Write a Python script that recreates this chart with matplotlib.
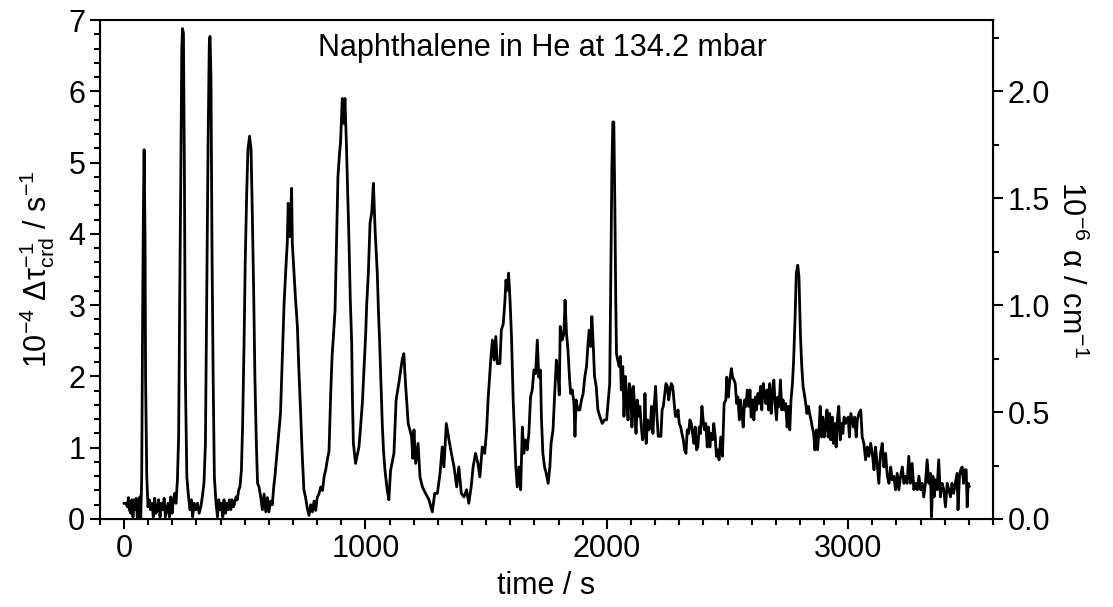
import matplotlib
matplotlib.use("Agg")
import matplotlib.pyplot as plt
from matplotlib.ticker import MultipleLocator

plt.rcParams['font.family'] = ['Liberation Sans', 'DejaVu Sans']
plt.rcParams['mathtext.fontset'] = 'custom'
plt.rcParams['mathtext.rm'] = 'Liberation Sans'
plt.rcParams['mathtext.it'] = 'Liberation Sans'
plt.rcParams['mathtext.default'] = 'regular'

### trace, time in s, signal in 1e4 s^-1
t_a = [0, 7, 14, 18, 22, 28, 32, 37, 41, 46, 50, 55, 59, 65, 69, 73, 77, 80, 83, 87,
       89, 94, 99, 105, 110, 116, 121, 127, 132, 138, 143, 149, 154, 160, 166, 171, 177,
       182, 188, 193, 199, 204, 210, 215, 221, 226, 230, 235, 239, 242, 246, 250, 254,
       260, 267, 273, 279, 284, 290, 297, 304, 311, 318, 324, 331, 337, 342, 348, 353,
       356, 360, 364, 369, 374, 381, 387, 392, 398, 403, 409, 414, 420, 425, 431, 436,
       442, 447, 453, 458, 464, 469, 475, 480, 486, 491, 497, 502, 508, 513, 520, 526,
       531, 537, 542, 548, 553, 559, 566, 573]
y_a = [0.22, 0.22, 0.17, 0.30, 0.13, 0.08, 0.27, 0.03, 0.27, 0.13, 0.29, 0.01, 0.22,
       0.31, 0.01, 0.59, 2.93, 4.33, 5.18, 3.87, 1.98, 0.59, 0.17, 0.27, 0.13, 0.22, 0.03,
       0.29, 0.08, 0.13, 0.27, 0.03, 0.22, 0.13, 0.29, 0.03, 0.13, 0.22, 0.03, 0.31, 0.08,
       0.27, 0.36, 0.22, 0.55, 1.16, 2.93, 4.80, 6.58, 6.88, 6.81, 4.80, 1.98, 0.59, 0.31,
       0.13, 0.27, 0.03, 0.22, 0.13, 0.22, 0.08, 0.17, 0.31, 0.50, 1.06, 2.93, 5.27, 6.67,
       6.77, 6.20, 3.87, 1.98, 0.59, 0.22, 0.03, 0.27, 0.13, 0.22, 0.03, 0.27, 0.08, 0.22,
       0.13, 0.27, 0.13, 0.27, 0.17, 0.22, 0.31, 0.27, 0.41, 0.45, 0.68, 1.30, 2.46, 3.63,
       4.57, 5.18, 5.37, 5.18, 4.33, 3.16, 1.98, 1.06, 0.50, 0.45, 0.31, 0.13]

t_b = [580, 587, 594, 600, 607, 614, 620, 625, 648, 655, 663, 670, 676, 680, 687, 694,
       697, 704, 710, 718, 724, 731, 738, 745, 752, 759, 766, 773, 780, 787, 794, 800,
       807, 815, 822, 829, 836, 843, 849, 856, 862, 868, 874, 880, 886, 892, 897, 904,
       910, 915, 921, 932, 937, 943, 946, 950, 959, 973, 980, 987, 994, 1001, 1005, 1012,
       1019, 1026, 1033, 1040, 1049, 1054, 1059, 1065, 1070, 1075, 1081, 1090, 1097,
       1104, 1118, 1127, 1138, 1152, 1159, 1166, 1177, 1191, 1196]
y_b = [0.35, 0.10, 0.30, 0.10, 0.25, 0.20, 0.45, 0.60, 1.48, 2.20, 3.03, 3.50, 3.87,
       4.43, 3.96, 4.64, 3.87, 3.45, 3.10, 2.70, 2.10, 1.53, 0.90, 0.41, 0.30, 0.15, 0.05,
       0.20, 0.10, 0.25, 0.12, 0.30, 0.35, 0.45, 0.40, 0.60, 0.70, 0.85, 0.95, 1.76, 2.30,
       2.60, 2.93, 3.90, 4.80, 5.10, 5.30, 5.90, 5.55, 5.90, 5.27, 3.87, 3.10, 2.46, 1.70,
       1.06, 0.78, 1.01, 1.30, 1.62, 2.10, 2.60, 3.00, 3.45, 4.15, 4.30, 4.71, 4.05, 3.45,
       2.90, 2.46, 1.80, 1.30, 0.95, 0.68, 0.41, 0.27, 0.68, 0.92, 1.67, 1.90, 2.23, 2.32,
       1.90, 1.34, 1.16, 0.85]

t_c = [1201, 1208, 1218, 1226, 1236, 1249, 1263, 1277, 1287, 1298, 1309, 1318, 1325,
       1335, 1346, 1356, 1367, 1378, 1387, 1397, 1408, 1419, 1428, 1438, 1446, 1456, 1466,
       1474, 1484, 1494, 1502, 1508, 1519, 1526, 1533, 1540, 1546, 1557, 1563, 1571, 1578,
       1582, 1588, 1593, 1599, 1605, 1612, 1618, 1623, 1629, 1636, 1643, 1650, 1656, 1663,
       1670, 1677, 1684, 1691, 1698, 1705, 1712, 1718, 1725, 1729, 1735, 1742, 1749, 1757,
       1764, 1769, 1777, 1784, 1791, 1798, 1803, 1807, 1815, 1822, 1827, 1833]
y_c = [1.25, 0.78, 1.06, 0.59, 0.45, 0.36, 0.27, 0.10, 0.36, 0.36, 0.64, 1.01, 0.73,
       1.34, 1.11, 0.92, 0.73, 0.45, 0.73, 0.36, 0.31, 0.41, 0.22, 0.45, 0.73, 0.92, 0.78,
       0.59, 1.01, 0.92, 1.25, 1.67, 2.23, 2.51, 2.23, 2.56, 2.18, 2.18, 2.65, 2.74, 3.07,
       3.35, 3.21, 3.45, 3.07, 2.56, 1.67, 1.15, 0.73, 0.45, 0.73, 0.41, 1.29, 0.92, 1.11,
       0.97, 1.20, 1.71, 1.81, 2.09, 2.04, 2.51, 1.99, 2.09, 1.43, 0.92, 0.73, 0.64, 0.50,
       0.73, 1.06, 1.25, 1.76, 2.23, 2.04, 1.74, 2.70, 2.51, 2.60, 3.07, 2.60]

t_d = [1839, 1845, 1850, 1857, 1864, 1868, 1873, 1880, 1888, 1895, 1902, 1909, 1916,
       1922, 1927, 1933, 1938, 1944, 1949, 1956, 1963, 1971, 1981, 1990, 1999, 2006, 2012,
       2017, 2021, 2025, 2029, 2033, 2037, 2040, 2045, 2051, 2056, 2060, 2066, 2071, 2077,
       2082, 2088, 2093, 2099, 2104, 2110, 2115, 2121, 2126, 2132, 2137, 2143, 2148, 2154,
       2158, 2163, 2169, 2174, 2180, 2185, 2191, 2196, 2202, 2207, 2213, 2218, 2224, 2229,
       2234, 2240, 2245, 2251, 2256, 2262, 2267, 2273, 2278, 2284, 2289, 2295, 2300, 2306,
       2311, 2317, 2322, 2328, 2333, 2339, 2344, 2350, 2355, 2361, 2366, 2372, 2377, 2383,
       2388, 2394, 2399, 2405, 2410, 2416, 2421, 2427, 2432, 2438, 2443, 2449, 2454]
y_d = [2.37, 2.00, 1.76, 1.81, 1.62, 1.16, 1.67, 1.53, 1.53, 1.67, 1.76, 2.00, 2.14,
       2.46, 2.65, 2.42, 2.84, 2.42, 2.00, 1.86, 1.53, 1.44, 1.34, 1.39, 1.39, 1.67, 1.90,
       3.54, 4.94, 5.57, 5.57, 4.47, 3.07, 2.32, 2.23, 2.14, 2.28, 1.81, 2.14, 1.44, 2.00,
       1.67, 1.39, 1.90, 1.81, 1.29, 1.86, 1.58, 1.20, 1.67, 1.44, 1.58, 1.29, 1.11, 1.16,
       1.76, 1.06, 1.39, 1.25, 1.29, 1.58, 1.20, 1.58, 1.86, 1.48, 1.16, 1.16, 1.16, 1.53,
       1.58, 1.76, 1.90, 1.86, 1.67, 1.81, 1.90, 1.86, 1.67, 1.44, 1.44, 1.53, 1.34, 1.29,
       1.20, 1.11, 0.97, 0.92, 1.25, 1.20, 1.39, 1.34, 1.20, 1.06, 1.29, 0.97, 1.01, 1.29,
       1.20, 1.58, 1.39, 1.25, 1.34, 1.01, 1.29, 1.01, 1.20, 1.11, 1.34, 1.16, 0.88]

t_e = [2458, 2465, 2472, 2479, 2486, 2493, 2497, 2503, 2508, 2516, 2521, 2527, 2532,
       2538, 2543, 2549, 2554, 2560, 2565, 2571, 2576, 2582, 2587, 2593, 2598, 2604, 2609,
       2615, 2620, 2626, 2631, 2637, 2642, 2648, 2653, 2659, 2664, 2670, 2675, 2681, 2686,
       2692, 2697, 2703, 2708, 2714, 2719, 2725, 2730, 2736, 2741, 2747, 2752, 2758, 2763,
       2769, 2774, 2780, 2785, 2791, 2796, 2802, 2807, 2813, 2818, 2824, 2829, 2835, 2840,
       2846, 2851, 2857, 2862, 2868, 2873, 2879, 2884, 2890, 2895, 2901, 2906, 2912, 2917,
       2923, 2928, 2934, 2939, 2945, 2950, 2956, 2961, 2967, 2972, 2978, 2983, 2989, 2994,
       3000, 3005, 3011, 3016, 3022, 3027, 3033, 3038, 3044]
y_e = [0.97, 0.83, 1.15, 0.88, 1.62, 1.67, 1.99, 1.71, 1.90, 2.11, 1.99, 1.95, 1.90,
       1.62, 1.71, 1.39, 1.67, 1.48, 1.29, 1.67, 1.58, 1.81, 1.58, 1.81, 1.43, 1.67, 1.39,
       1.71, 1.53, 1.76, 1.62, 1.86, 1.53, 1.90, 1.76, 1.62, 1.81, 1.53, 1.90, 1.48, 1.76,
       1.95, 1.62, 1.39, 1.71, 1.58, 1.95, 1.53, 1.67, 1.53, 1.62, 1.29, 1.58, 1.25, 1.67,
       1.90, 2.23, 2.84, 3.45, 3.56, 3.40, 2.60, 2.18, 1.86, 1.76, 1.62, 1.48, 1.58, 1.48,
       1.39, 1.29, 1.20, 0.97, 1.25, 0.97, 1.25, 1.58, 1.15, 1.43, 1.15, 1.29, 1.53, 1.15,
       1.48, 1.11, 1.43, 1.06, 1.34, 1.01, 1.43, 1.58, 1.11, 1.34, 1.20, 1.43, 1.34, 1.39,
       1.43, 1.15, 1.48, 1.39, 1.29, 1.43, 1.15, 1.39, 1.48]

t_f = [3052, 3058, 3065, 3072, 3079, 3086, 3093, 3100, 3107, 3113, 3120, 3127, 3134,
       3141, 3148, 3155, 3162, 3169, 3176, 3182, 3189, 3196, 3203, 3210, 3217, 3224, 3231,
       3237, 3244, 3251, 3258, 3265, 3272, 3279, 3286, 3293, 3300, 3306, 3313, 3320, 3327,
       3334, 3341, 3345, 3351, 3356, 3361, 3368, 3375, 3382, 3389, 3396, 3403, 3410, 3417,
       3424, 3430, 3437, 3444, 3451, 3455, 3461, 3466, 3472, 3478, 3483, 3489, 3493, 3497,
       3501]
y_f = [1.53, 1.15, 1.06, 0.83, 1.01, 0.88, 1.06, 0.92, 0.69, 1.01, 0.78, 0.50, 0.92,
       1.06, 0.73, 0.92, 0.60, 0.50, 0.73, 0.55, 0.60, 0.41, 0.64, 0.41, 0.60, 0.73, 0.50,
       0.60, 0.50, 0.88, 0.50, 0.78, 0.41, 0.50, 0.41, 0.60, 0.41, 0.50, 0.31, 0.50, 0.83,
       0.50, 0.64, 0.03, 0.60, 0.31, 0.55, 0.41, 0.83, 0.31, 0.50, 0.41, 0.17, 0.50, 0.41,
       0.31, 0.50, 0.36, 0.50, 0.64, 0.13, 0.60, 0.69, 0.73, 0.50, 0.69, 0.69, 0.17, 0.50,
       0.46]

time = t_a + t_b + t_c + t_d + t_e + t_f
signal = y_a + y_b + y_c + y_d + y_e + y_f

title = 'Naphthalene in He at 134.2 mbar'
fs = 22


### plot
fig = plt.figure(figsize=(11.13, 6.07), dpi=100)
ax = fig.add_axes([0.0898, 0.145, 0.8024, 0.822])
ax.plot(time, signal, color='black', lw=2)

ax.set_xlim(-100, 3600)
ax.set_ylim(0, 7)
ax.xaxis.set_major_locator(MultipleLocator(1000))
ax.xaxis.set_minor_locator(MultipleLocator(100))
ax.yaxis.set_major_locator(MultipleLocator(1))
ax.yaxis.set_minor_locator(MultipleLocator(0.2))
ax.tick_params(which='both', direction='out', width=1.5, labelsize=fs)
ax.tick_params(which='major', length=7)
ax.tick_params(which='minor', length=4)
for s in ax.spines.values():
    s.set_linewidth(1.5)

ax.set_xlabel('time / s', fontsize=fs, labelpad=5)
ax.set_ylabel('10$^{-4}$ Δτ$^{-1}_{crd}$ / s$^{-1}$', fontsize=fs, labelpad=8)
ax.text(0.496, 0.975, title, transform=ax.transAxes, ha='center', va='top', fontsize=fs)

ax2 = ax.twinx()
ax2.set_ylim(0, 7 / 3)
ax2.yaxis.set_major_locator(MultipleLocator(0.5))
ax2.yaxis.set_minor_locator(MultipleLocator(0.25))
ax2.yaxis.set_major_formatter('{x:.1f}')
ax2.tick_params(which='both', direction='out', width=1.5, labelsize=fs)
ax2.tick_params(which='major', length=7)
ax2.tick_params(which='minor', length=4)
ax2.set_ylabel('10$^{-6}$ α / cm$^{-1}$', fontsize=fs, rotation=270, labelpad=26)

fig.savefig('out.png', dpi=100)
